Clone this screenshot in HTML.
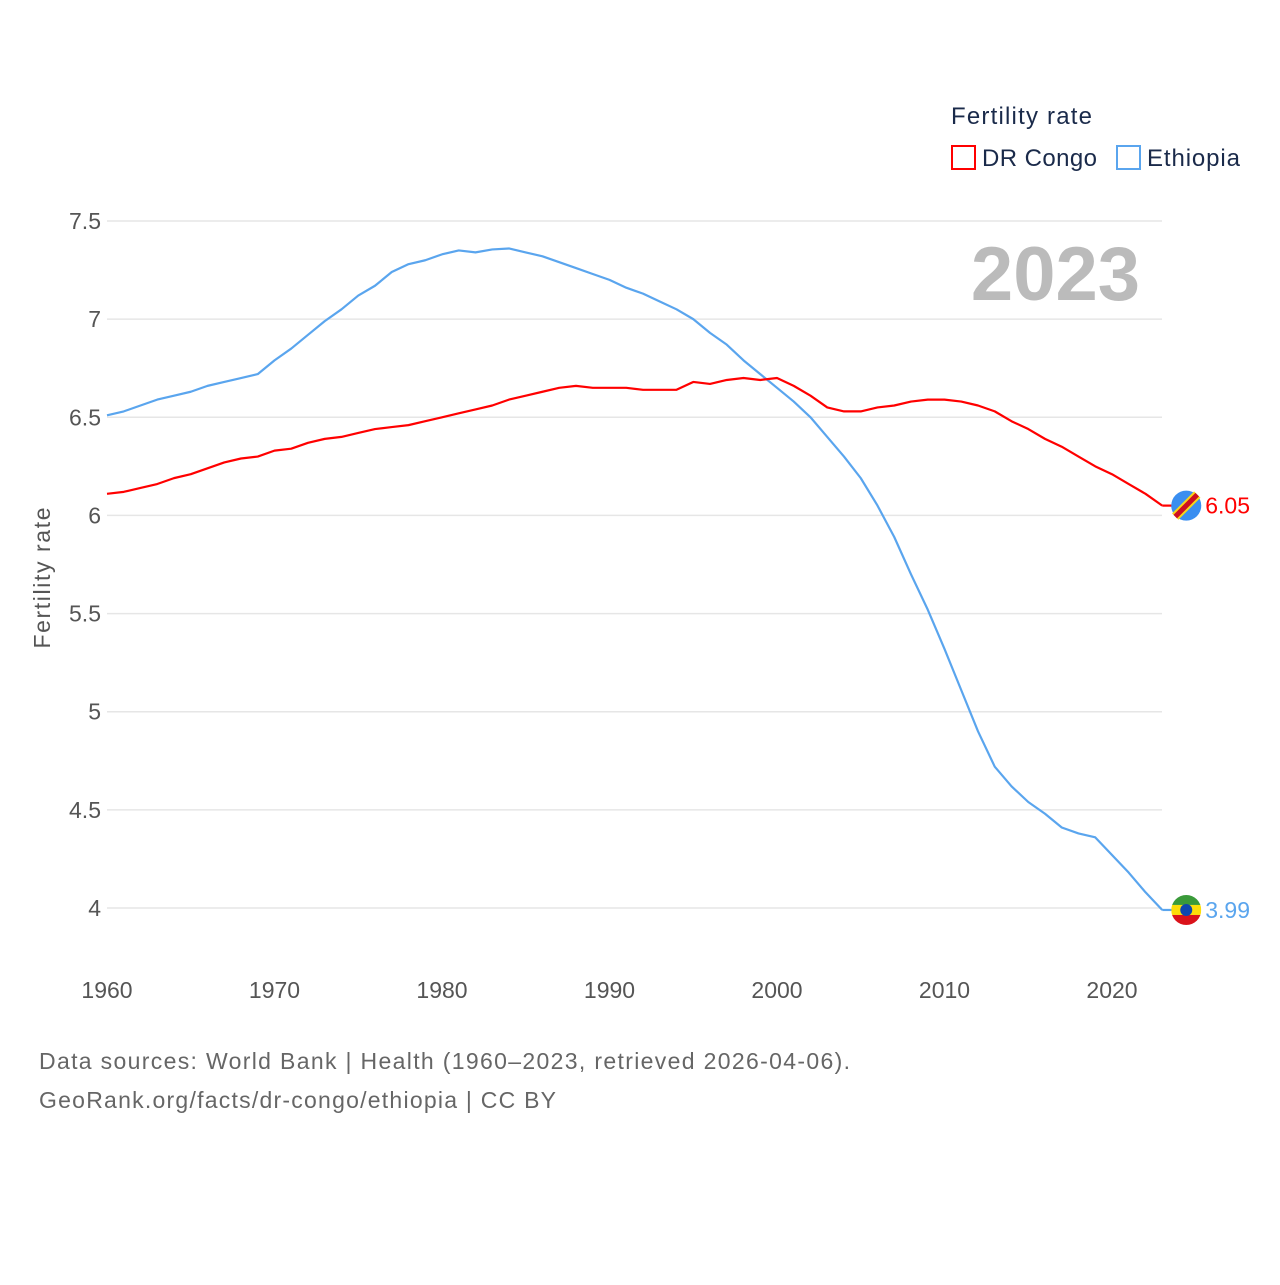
<!DOCTYPE html>
<html><head><meta charset="utf-8">
<style>
body{margin:0;background:#fff;font-family:"Liberation Sans",sans-serif;}
svg text{font-family:"Liberation Sans",sans-serif;}
</style></head>
<body>
<svg width="1280" height="1280" viewBox="0 0 1280 1280">
<g id="grid"></g>
<g id="yticks"></g>
<g id="xticks"></g>
<text x="50" y="578" transform="rotate(-90 50 578)" text-anchor="middle" font-size="23" fill="#555" textLength="141">Fertility rate</text>
<text x="1140" y="300" text-anchor="end" font-size="76" font-weight="bold" fill="#bbb">2023</text>
<text x="951" y="124" font-size="24" fill="#1a2a4a" textLength="141">Fertility rate</text>
<g><rect x="952" y="146" width="23" height="23" fill="none" stroke="#f00" stroke-width="2"/><text x="982" y="166" font-size="24" fill="#1a2a4a" textLength="115">DR Congo</text></g>
<g><rect x="1117" y="146" width="23" height="23" fill="none" stroke="#5aa5ee" stroke-width="2"/><text x="1147" y="166" font-size="24" fill="#1a2a4a" textLength="93">Ethiopia</text></g>
<g id="series"></g>
<text x="39" y="1069" font-size="23" fill="#666" textLength="811">Data sources: World Bank | Health (1960–2023, retrieved 2026-04-06).</text>
<text x="39" y="1108" font-size="23" fill="#666" textLength="517">GeoRank.org/facts/dr-congo/ethiopia | CC BY</text>
</svg>
<script>
const years=[];for(let y=1960;y<=2023;y++)years.push(y);
const congo=[6.11,6.12,6.14,6.16,6.19,6.21,6.24,6.27,6.29,6.30,6.33,6.34,6.37,6.39,6.40,6.42,6.44,6.45,6.46,6.48,6.50,6.52,6.54,6.56,6.59,6.61,6.63,6.65,6.66,6.65,6.65,6.65,6.64,6.64,6.64,6.68,6.67,6.69,6.70,6.69,6.70,6.66,6.61,6.55,6.53,6.53,6.55,6.56,6.58,6.59,6.59,6.58,6.56,6.53,6.48,6.44,6.39,6.35,6.30,6.25,6.21,6.16,6.11,6.05];
const ethiopia=[6.51,6.53,6.56,6.59,6.61,6.63,6.66,6.68,6.70,6.72,6.79,6.85,6.92,6.99,7.05,7.12,7.17,7.24,7.28,7.30,7.33,7.35,7.34,7.355,7.36,7.34,7.32,7.29,7.26,7.23,7.20,7.16,7.13,7.09,7.05,7.00,6.93,6.87,6.79,6.72,6.65,6.58,6.50,6.40,6.30,6.19,6.05,5.89,5.70,5.52,5.32,5.11,4.90,4.72,4.62,4.54,4.48,4.41,4.38,4.36,4.27,4.18,4.08,3.99];
const yTicks=[4,4.5,5,5.5,6,6.5,7,7.5];
const xTicks=[1960,1970,1980,1990,2000,2010,2020];
const NS="http://www.w3.org/2000/svg";
const X=v=>107+(v-1960)*16.75;
const Y=v=>908-(v-4)*196.29;
function mk(tag,attrs,parent){const e=document.createElementNS(NS,tag);for(const k in attrs)e.setAttribute(k,attrs[k]);parent.appendChild(e);return e;}
const grid=document.getElementById('grid'),yt=document.getElementById('yticks'),xt=document.getElementById('xticks'),ser=document.getElementById('series');
yTicks.forEach(t=>{
 const l=mk('line',{x1:107,x2:1162,y1:Y(t),y2:Y(t),stroke:'#e6e6e6','stroke-width':1.5},grid);
 
 
 const tx=mk('text',{x:101,y:Y(t)+8,'text-anchor':'end','font-size':23,fill:'#555'},yt);tx.textContent=t;
 
 
});
xTicks.forEach(t=>{
 const tx=mk('text',{x:X(t),y:998,'text-anchor':'middle','font-size':23,fill:'#555'},xt);tx.textContent=t;
 
 
});
function line(data,color,name){
 const p=mk('polyline',{points:data.map((v,i)=>X(years[i])+','+Y(v)).join(' '),fill:'none',stroke:color,'stroke-width':2.2,'stroke-linejoin':'round'},ser);
 
 
}
line(ethiopia,'#5aa5ee','ethiopia-line');
line(congo,'#f00','dr-congo-line');
const lx=X(2023);
const cy=Y(congo[congo.length-1]);
mk('line',{x1:lx,x2:lx+10,y1:cy,y2:cy,stroke:'#f00','stroke-width':2.2},ser);
const cg=mk('g',{},ser);


mk('circle',{cx:lx+24,cy:cy,r:15,fill:'#3a8ef0'},cg);
mk('line',{x1:lx+13,y1:cy+11,x2:lx+35,y2:cy-11,stroke:'#f7d618','stroke-width':9},cg);
mk('line',{x1:lx+13,y1:cy+11,x2:lx+35,y2:cy-11,stroke:'#ce1021','stroke-width':5},cg);
const ct=mk('text',{x:lx+43,y:cy+8,'font-size':23,fill:'#f00'},ser);ct.textContent=congo[congo.length-1].toFixed(2);


const ey=Y(ethiopia[ethiopia.length-1]);
mk('line',{x1:lx,x2:lx+10,y1:ey,y2:ey,stroke:'#5aa5ee','stroke-width':2.2},ser);
const eg=mk('g',{},ser);


mk('clipPath',{id:'ec'},eg).appendChild(document.createElementNS(NS,'circle'));
const cc=eg.querySelector('clipPath circle');cc.setAttribute('cx',lx+24);cc.setAttribute('cy',ey);cc.setAttribute('r',15);
mk('rect',{x:lx+9,y:ey-15,width:30,height:10,fill:'#3a9a3a','clip-path':'url(#ec)'},eg);
mk('rect',{x:lx+9,y:ey-5,width:30,height:10,fill:'#fcdd09','clip-path':'url(#ec)'},eg);
mk('rect',{x:lx+9,y:ey+5,width:30,height:10,fill:'#da121a','clip-path':'url(#ec)'},eg);
mk('circle',{cx:lx+24,cy:ey,r:6,fill:'#0f47af'},eg);
const et=mk('text',{x:lx+43,y:ey+8,'font-size':23,fill:'#5aa5ee'},ser);et.textContent=ethiopia[ethiopia.length-1].toFixed(2);


</script>
</body></html>
